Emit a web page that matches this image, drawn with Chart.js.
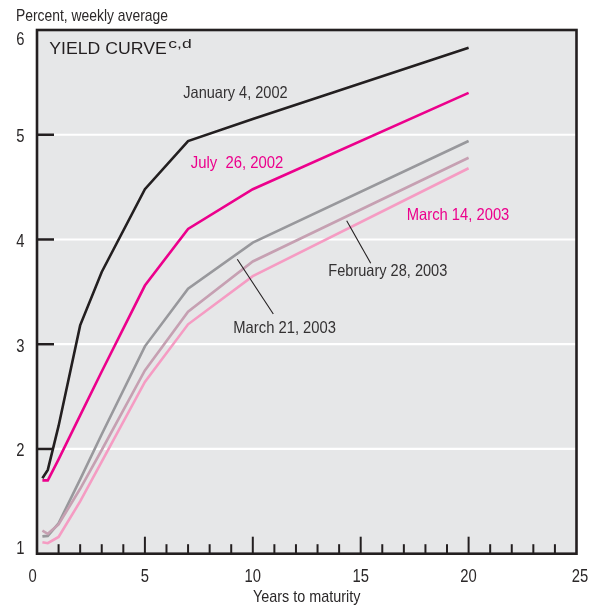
<!DOCTYPE html>
<html>
<head>
<meta charset="utf-8">
<script src="https://cdn.jsdelivr.net/npm/chart.js@4/dist/chart.umd.min.js"></script>
<style>
  html, body { margin: 0; padding: 0; background: #ffffff; }
  #wrap { width: 600px; height: 608px; position: relative; }
</style>
</head>
<body>
<div id="wrap"><canvas id="c" width="600" height="608"></canvas></div>
<script>
// ---- Data ----
const maturities = [0.25, 0.5, 1, 2, 3, 5, 7, 10, 20];
const jan4_2002  = [1.72, 1.80, 2.22, 3.18, 3.69, 4.48, 4.94, 5.15, 5.83];
const jul26_2002 = [1.70, 1.70, 1.90, 2.32, 2.74, 3.56, 4.10, 4.48, 5.40];
const feb28_2003 = [1.22, 1.19, 1.28, 1.62, 1.99, 2.75, 3.31, 3.79, 4.78];
const mar14_2003 = [1.11, 1.10, 1.16, 1.50, 1.88, 2.64, 3.19, 3.65, 4.68];
const mar21_2003 = [1.165, 1.17, 1.29, 1.71, 2.14, 2.98, 3.53, 3.97, 4.94];
const xTickLabels = [0, 5, 10, 15, 20, 25];
const yTickLabels = [1, 2, 3, 4, 5, 6];
const seriesNames = ['January 4, 2002', 'July  26, 2002', 'February 28, 2003', 'March 14, 2003', 'March 21, 2003'];

const INK = '#231f20';
const MAGENTA = '#ec008c';
const COND = '"Liberation Sans", Arial, sans-serif';
const REG = '"Liberation Sans", Arial, sans-serif';

function pts(vals) { return maturities.map((m, i) => ({ x: m, y: vals[i] })); }

// draw text fitted horizontally to a target width (or a fixed squeeze factor)
function fitText(ctx, text, x, y, width, size, family, color, align, squeeze) {
  ctx.save();
  ctx.font = size + 'px ' + family;
  ctx.fillStyle = color;
  ctx.textBaseline = 'alphabetic';
  const w = ctx.measureText(text).width;
  const s = width ? width / w : (squeeze || 1);
  let left = x;
  const realW = w * s;
  if (align === 'center') left = x - realW / 2;
  else if (align === 'right') left = x - realW;
  ctx.translate(left, y);
  ctx.scale(s, 1);
  ctx.textAlign = 'left';
  ctx.fillText(text, 0, 0);
  ctx.restore();
}

const decor = {
  id: 'decor',
  beforeDatasetsDraw(chart) {
    const { ctx, chartArea: a, scales: { x, y } } = chart;
    ctx.save();
    ctx.fillStyle = '#e6e7e8';
    ctx.fillRect(a.left, a.top, a.right - a.left, a.bottom - a.top);
    ctx.strokeStyle = '#ffffff';
    ctx.lineWidth = 2.2;
    yTickLabels.forEach(v => {
      if (v === yTickLabels[0] || v === yTickLabels[yTickLabels.length - 1]) return;
      const py = y.getPixelForValue(v);
      ctx.beginPath(); ctx.moveTo(a.left, py); ctx.lineTo(a.right, py); ctx.stroke();
    });
    ctx.restore();
  },
  afterDatasetsDraw(chart) {
    const { ctx, chartArea: a, scales: { x, y } } = chart;
    ctx.save();
    ctx.strokeStyle = INK;
    ctx.lineWidth = 2.5;
    yTickLabels.forEach(v => {
      if (v === yTickLabels[0] || v === yTickLabels[yTickLabels.length - 1]) return;
      const py = y.getPixelForValue(v);
      ctx.beginPath(); ctx.moveTo(a.left, py); ctx.lineTo(a.left + 17, py); ctx.stroke();
    });
    ctx.lineWidth = 2;
    for (let v = x.min + 1; v < x.max; v++) {
      const px = x.getPixelForValue(v);
      const len = (v % 5 === 0) ? 17 : 9.5;
      ctx.beginPath(); ctx.moveTo(px, a.bottom); ctx.lineTo(px, a.bottom - len); ctx.stroke();
    }
    ctx.lineWidth = 2.6;
    ctx.strokeStyle = INK;
    ctx.strokeRect(a.left, a.top, a.right - a.left, a.bottom - a.top);

    yTickLabels.forEach(v => {
      const py = y.getPixelForValue(v);
      let base = Math.max(py + 7.5, a.top + 15.3);
      base = Math.min(base, a.bottom);
      fitText(ctx, String(v), 24.5, base, 0, 18.5, COND, '#2b2829', 'right', 0.8);
    });
    xTickLabels.forEach((v, i) => {
      let px = x.getPixelForValue(v);
      if (i === 0) px -= 4.5;
      if (i === xTickLabels.length - 1) px += 3.5;
      fitText(ctx, String(v), px, 581.7, 0, 18.5, COND, '#2b2829', 'center', 0.8);
    });

    fitText(ctx, 'Percent, weekly average', 16, 20.8, 152, 17, COND, '#2b2829', 'left');
    fitText(ctx, 'Years to maturity', 253, 601.8, 107.5, 17, COND, '#2b2829', 'left');
    fitText(ctx, 'YIELD CURVE', 49.3, 54.3, 117.5, 16.5, REG, INK, 'left');
    fitText(ctx, 'c,d', 168.3, 47.8, 23.4, 13, REG, INK, 'left');

    fitText(ctx, seriesNames[0], 183.3, 97.6, 104.3, 16.5, COND, '#333132', 'left');
    fitText(ctx, seriesNames[1], 190.7, 168, 92.6, 16.5, COND, MAGENTA, 'left');
    fitText(ctx, seriesNames[3], 406.7, 220.4, 102.6, 16.5, COND, MAGENTA, 'left');
    fitText(ctx, seriesNames[2], 328.3, 275.6, 119, 16.5, COND, '#333132', 'left');
    fitText(ctx, seriesNames[4], 233.3, 332.8, 102.7, 16.5, COND, '#333132', 'left');

    ctx.strokeStyle = INK;
    ctx.lineWidth = 1.1;
    ctx.beginPath(); ctx.moveTo(346.7, 220.7); ctx.lineTo(370.7, 263.3); ctx.stroke();
    ctx.beginPath(); ctx.moveTo(237.3, 259.3); ctx.lineTo(273.3, 314); ctx.stroke();
    ctx.restore();
  }
};

const common = { borderWidth: 2.6, pointRadius: 0, tension: 0, fill: false, borderJoinStyle: 'miter', borderCapStyle: 'butt' };

new Chart(document.getElementById('c'), {
  type: 'line',
  data: {
    datasets: [
      Object.assign({ label: seriesNames[0], data: pts(jan4_2002), borderColor: INK }, common),
      Object.assign({ label: seriesNames[1], data: pts(jul26_2002), borderColor: MAGENTA }, common),
      Object.assign({ label: seriesNames[3], data: pts(mar14_2003), borderColor: '#f59cc3' }, common),
      Object.assign({ label: seriesNames[2], data: pts(feb28_2003), borderColor: '#c6a0b2' }, common),
      Object.assign({ label: seriesNames[4], data: pts(mar21_2003), borderColor: '#98989c' }, common)
    ]
  },
  options: {
    responsive: false,
    animation: false,
    devicePixelRatio: 1,
    layout: { padding: { left: 37, right: 23.5, top: 30, bottom: 54.3 } },
    plugins: { legend: { display: false }, tooltip: { enabled: false } },
    scales: {
      x: { type: 'linear', min: 0, max: 25, display: false },
      y: { type: 'linear', min: 1, max: 6, display: false }
    }
  },
  plugins: [decor]
});
</script>
</body>
</html>
